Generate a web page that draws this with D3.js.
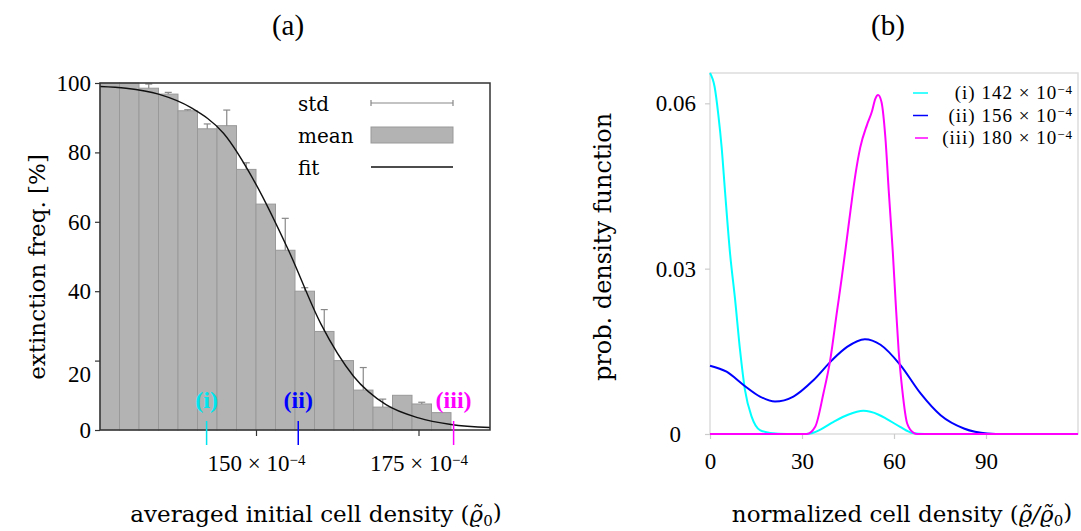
<!DOCTYPE html>
<html>
<head>
<meta charset="utf-8">
<script src="https://cdn.jsdelivr.net/npm/d3@7"></script>
<style>
body { margin: 0; background: #fff; }
text { font-family: "Liberation Serif", "DejaVu Serif", serif; }
.lbl { font-family: "DejaVu Serif", serif; }
</style>
</head>
<body>
<div id="chart"></div>
<script>
// ---- panel (a) data ----
var binStart = [126, 129, 132, 135, 138, 141, 144, 147, 150, 153, 156, 159, 162, 165, 168, 171, 174, 177];
var binWidth = 3;
var meanFreq = [100, 100, 98.5, 96.8, 92, 86.8, 87.7, 75.1, 65.1, 51.8, 40, 28.4, 20, 11.5, 6.6, 10, 7.5, 5];
var stdFreq = [0, 0, 1.2, 0.5, 0.3, 1.4, 4.5, 1.9, 0, 9.2, 1, 6.3, 0, 6.5, 2.3, 0, 0.5, 0];
var fitX = [126, 130, 135, 140, 145, 150, 155, 160, 165, 170, 175, 180, 186];
var fitY = [99.0, 98.5, 96.8, 92.9, 85.5, 70.8, 51.8, 30.5, 15.5, 7.3, 3.5, 1.6, 0.7];
var markerLabels = ["(i)", "(ii)", "(iii)"];
var markerX = [142.4, 156.5, 180.4];
var markerColors = ["#00e5ee", "#0000ff", "#ff00ff"];
var yTicksA = [0, 20, 40, 60, 80, 100];
var xTicksA = [150, 175];

// ---- panel (b) data ----
var pdfX1 = [0, 1.5, 2.7, 3.8, 4.9, 6.5, 8.2, 9.8, 11.4, 13.6, 16.3, 19.6, 25, 30, 32.7, 36, 40.3, 45, 50, 55, 57.7, 62, 66, 70, 120];
var pdfY1 = [0.0655, 0.063, 0.058, 0.052, 0.044, 0.033, 0.0243, 0.0152, 0.008, 0.0031, 0.0007, 0.0002, 0, 0, 0.0001, 0.0008, 0.0022, 0.0035, 0.0042, 0.0035, 0.0027, 0.0013, 0.0002, 0, 0];
var pdfX2 = [0, 5.4, 10.9, 16.3, 21.2, 27.2, 33.8, 39.8, 44.7, 50.5, 55.6, 62.1, 68.6, 75.2, 82.8, 90.4, 96, 120];
var pdfY2 = [0.0124, 0.0113, 0.0089, 0.0068, 0.0059, 0.0068, 0.0098, 0.0134, 0.0158, 0.0172, 0.0162, 0.0125, 0.0074, 0.0034, 0.001, 0.0001, 0, 0];
var pdfX3 = [0, 31.6, 34.3, 37, 39.2, 41.4, 43, 44.3, 45.8, 47.4, 49, 51.2, 52.8, 53.9, 54.8, 55.9, 57.2, 58.3, 59.6, 60.5, 61.5, 62.7, 64.3, 66.4, 67.5, 120];
var pdfY3 = [0, 0, 0.0013, 0.0074, 0.0134, 0.0222, 0.0285, 0.034, 0.0405, 0.047, 0.052, 0.0561, 0.0585, 0.0608, 0.0615, 0.0603, 0.0537, 0.044, 0.0331, 0.0243, 0.0152, 0.008, 0.0019, 0.0002, 0, 0];
var seriesNames = ["(i) 142", "(ii) 156", "(iii) 180"];
var seriesColors = ["#00ffff", "#0000ff", "#ff00ff"];
var yTicksB = [0, 0.03, 0.06];
var xTicksB = [0, 30, 60, 90];

var w = 1081;
var h = 531;

var svg = d3.select("#chart")
    .append("svg")
    .attr("width", w)
    .attr("height", h);

// =========== (a) ===========
var xa = d3.scaleLinear().domain([126, 186]).range([100, 490]);
var ya = d3.scaleLinear().domain([0, 100]).range([430, 83]);

var ga = svg.append("g");

ga.selectAll("rect.bar")
    .data(meanFreq)
    .enter()
    .append("rect")
    .attr("class", "bar")
    .attr("x", function(d, i) { return xa(binStart[i]); })
    .attr("y", function(d) { return ya(d); })
    .attr("width", function(d, i) { return xa(binStart[i] + binWidth) - xa(binStart[i]); })
    .attr("height", function(d) { return ya(0) - ya(d); })
    .attr("fill", "#b3b3b3")
    .attr("stroke", "#999")
    .attr("stroke-width", 1);

// error bars: only the upper half shows above the bars
var errIdx = d3.range(meanFreq.length).filter(function(i) { return stdFreq[i] > 0; });

ga.selectAll("line.errv")
    .data(errIdx)
    .enter()
    .append("line")
    .attr("class", "errv")
    .attr("x1", function(i) { return xa(binStart[i] + binWidth / 2); })
    .attr("x2", function(i) { return xa(binStart[i] + binWidth / 2); })
    .attr("y1", function(i) { return ya(meanFreq[i]); })
    .attr("y2", function(i) { return ya(meanFreq[i] + stdFreq[i]); })
    .attr("stroke", "#888")
    .attr("stroke-width", 1.2);

ga.selectAll("line.errc")
    .data(errIdx)
    .enter()
    .append("line")
    .attr("class", "errc")
    .attr("x1", function(i) { return xa(binStart[i] + binWidth / 2) - 3.5; })
    .attr("x2", function(i) { return xa(binStart[i] + binWidth / 2) + 3.5; })
    .attr("y1", function(i) { return ya(meanFreq[i] + stdFreq[i]); })
    .attr("y2", function(i) { return ya(meanFreq[i] + stdFreq[i]); })
    .attr("stroke", "#888")
    .attr("stroke-width", 1.2);

var fitLine = d3.line()
    .x(function(d) { return xa(d); })
    .y(function(d, i) { return ya(fitY[i]); })
    .curve(d3.curveMonotoneX);

ga.append("path")
    .datum(fitX)
    .attr("d", fitLine)
    .attr("fill", "none")
    .attr("stroke", "#111")
    .attr("stroke-width", 1.4);

// frame
ga.append("rect")
    .attr("x", 100).attr("y", 83)
    .attr("width", 390).attr("height", 347)
    .attr("fill", "none")
    .attr("stroke", "#333")
    .attr("stroke-width", 1.5);

var yAxisA = d3.axisLeft(ya).tickValues(yTicksA).tickSize(5).tickPadding(4);
ga.append("g")
    .attr("class", "ya axis")
    .attr("transform", "translate(100,0)")
    .call(yAxisA);

var xAxisA = d3.axisBottom(xa).tickValues(xTicksA).tickSize(6).tickPadding(19);
ga.append("g")
    .attr("class", "xa axis")
    .attr("transform", "translate(0,430)")
    .call(xAxisA);

ga.selectAll(".axis .domain").remove();
ga.selectAll(".axis line").attr("stroke", "#333").attr("stroke-width", 1.2);
ga.selectAll(".ya text")
    .attr("font-size", 23)
    .attr("font-family", "Liberation Serif")
    .attr("dy", function(d) { return d === 20 ? "0.9em" : "0.32em"; });
ga.selectAll(".xa text")
    .attr("font-size", 23)
    .attr("font-family", "Liberation Serif")
    .each(function(d) {
        var t = d3.select(this);
        t.text(null);
        t.append("tspan").text(d + " \u00d7 10");
        t.append("tspan").attr("dy", "-0.45em").attr("font-size", 15).text("\u22124");
    });

// markers (i), (ii), (iii)
ga.selectAll("line.mark")
    .data(markerX)
    .enter()
    .append("line")
    .attr("class", "mark")
    .attr("x1", function(d) { return xa(d); })
    .attr("x2", function(d) { return xa(d); })
    .attr("y1", 421)
    .attr("y2", 445)
    .attr("stroke", function(d, i) { return markerColors[i]; })
    .attr("stroke-width", 1.5);

ga.selectAll("text.mark")
    .data(markerX)
    .enter()
    .append("text")
    .attr("class", "mark")
    .attr("x", function(d) { return xa(d); })
    .attr("y", 408)
    .attr("text-anchor", "middle")
    .attr("font-size", 24)
    .attr("font-weight", "bold")
    .attr("fill", function(d, i) { return markerColors[i]; })
    .text(function(d, i) { return markerLabels[i]; });

// legend (a)
var lgA = ga.append("g");
lgA.append("text").attr("class", "lbl").attr("x", 298).attr("y", 111).attr("font-size", 20).text("std");
lgA.append("text").attr("class", "lbl").attr("x", 298).attr("y", 143).attr("font-size", 20).text("mean");
lgA.append("text").attr("class", "lbl").attr("x", 298).attr("y", 175).attr("font-size", 20).text("fit");
lgA.append("line").attr("x1", 371).attr("x2", 453).attr("y1", 103).attr("y2", 103)
    .attr("stroke", "#888").attr("stroke-width", 1.2);
lgA.append("line").attr("x1", 371).attr("x2", 371).attr("y1", 100).attr("y2", 106)
    .attr("stroke", "#888").attr("stroke-width", 1.2);
lgA.append("line").attr("x1", 453).attr("x2", 453).attr("y1", 100).attr("y2", 106)
    .attr("stroke", "#888").attr("stroke-width", 1.2);
lgA.append("rect").attr("x", 371).attr("y", 127).attr("width", 82).attr("height", 16)
    .attr("fill", "#b3b3b3").attr("stroke", "#999");
lgA.append("line").attr("x1", 371).attr("x2", 453).attr("y1", 167).attr("y2", 167)
    .attr("stroke", "#111").attr("stroke-width", 1.4);

ga.append("text")
    .attr("x", 288).attr("y", 35)
    .attr("text-anchor", "middle")
    .attr("font-size", 29)
    .text("(a)");

ga.append("text")
    .attr("class", "lbl")
    .attr("transform", "translate(45,267) rotate(-90)")
    .attr("text-anchor", "middle")
    .attr("font-size", 23)
    .text("extinction freq. [%]");

var xla = ga.append("text")
    .attr("class", "lbl")
    .attr("x", 316).attr("y", 522)
    .attr("text-anchor", "middle")
    .attr("font-size", 23);
xla.append("tspan").text("averaged initial cell density (");
xla.append("tspan").attr("font-style", "italic").text("\u03f1\u0303");
xla.append("tspan").attr("font-size", 15).attr("dy", "0.25em").text("0");
xla.append("tspan").attr("dy", "-0.25em").text(")");

// =========== (b) ===========
var xb = d3.scaleLinear().domain([0, 120]).range([710, 1078]);
var yb = d3.scaleLinear().domain([0, 0.0655]).range([434, 73]);

var gb = svg.append("g");

gb.append("rect")
    .attr("x", 710).attr("y", 73)
    .attr("width", 368).attr("height", 361)
    .attr("fill", "none")
    .attr("stroke", "#ddd")
    .attr("stroke-width", 1.5);

var yAxisB = d3.axisLeft(yb).tickValues(yTicksB).tickSize(5).tickPadding(9)
    .tickFormat(function(d) { return d === 0 ? "0" : d3.format(".2f")(d); });
gb.append("g")
    .attr("class", "yb axis")
    .attr("transform", "translate(710,0)")
    .call(yAxisB);

var xAxisB = d3.axisBottom(xb).tickValues(xTicksB).tickSize(5).tickPadding(14);
gb.append("g")
    .attr("class", "xb axis")
    .attr("transform", "translate(0,434)")
    .call(xAxisB);

gb.selectAll(".axis .domain").remove();
gb.selectAll(".axis line").attr("stroke", "#ccc").attr("stroke-width", 1.2);
gb.selectAll(".axis text")
    .attr("font-size", 23)
    .attr("font-family", "Liberation Serif")
    .attr("fill", "#000");
gb.selectAll(".yb text")
    .attr("dx", function(d) { return d === 0 ? -15 : 0; });

var pdfData = [
    { xs: pdfX1, ys: pdfY1 },
    { xs: pdfX2, ys: pdfY2 },
    { xs: pdfX3, ys: pdfY3 }
];

var pdfLine = d3.line()
    .x(function(d) { return xb(d[0]); })
    .y(function(d) { return yb(d[1]); })
    .curve(d3.curveMonotoneX);

gb.selectAll("path.pdf")
    .data(pdfData)
    .enter()
    .append("path")
    .attr("class", "pdf")
    .attr("d", function(s) { return pdfLine(d3.zip(s.xs, s.ys)); })
    .attr("fill", "none")
    .attr("stroke", function(d, i) { return seriesColors[i]; })
    .attr("stroke-width", 2);

// legend (b)
var lgB = gb.selectAll("g.lgb")
    .data(seriesNames)
    .enter()
    .append("g")
    .attr("class", "lgb")
    .attr("transform", function(d, i) { return "translate(0," + (93 + i * 22.5) + ")"; });

lgB.append("line")
    .attr("x1", function(d, i) { return i === 2 ? 915 : 913; })
    .attr("x2", 928)
    .attr("stroke", function(d, i) { return seriesColors[i]; })
    .attr("stroke-width", 1.5);

var lgT = lgB.append("text")
    .attr("x", 1073)
    .attr("y", 6)
    .attr("text-anchor", "end")
    .attr("font-size", 19)
    .attr("letter-spacing", 1);
lgT.append("tspan").text(function(d) { return d + " \u00d7 10"; });
lgT.append("tspan").attr("dy", "-0.4em").attr("font-size", 13).text("\u22124");

gb.append("text")
    .attr("x", 888).attr("y", 35)
    .attr("text-anchor", "middle")
    .attr("font-size", 29)
    .text("(b)");

gb.append("text")
    .attr("class", "lbl")
    .attr("transform", "translate(611,247) rotate(-90)")
    .attr("text-anchor", "middle")
    .attr("font-size", 24)
    .text("prob. density function");

var xlb = gb.append("text")
    .attr("class", "lbl")
    .attr("x", 902).attr("y", 522)
    .attr("text-anchor", "middle")
    .attr("font-size", 23);
xlb.append("tspan").text("normalized cell density (");
xlb.append("tspan").attr("font-style", "italic").text("\u03f1\u0303/\u03f1\u0303");
xlb.append("tspan").attr("font-size", 15).attr("dy", "0.25em").text("0");
xlb.append("tspan").attr("dy", "-0.25em").text(")");
</script>
</body>
</html>
